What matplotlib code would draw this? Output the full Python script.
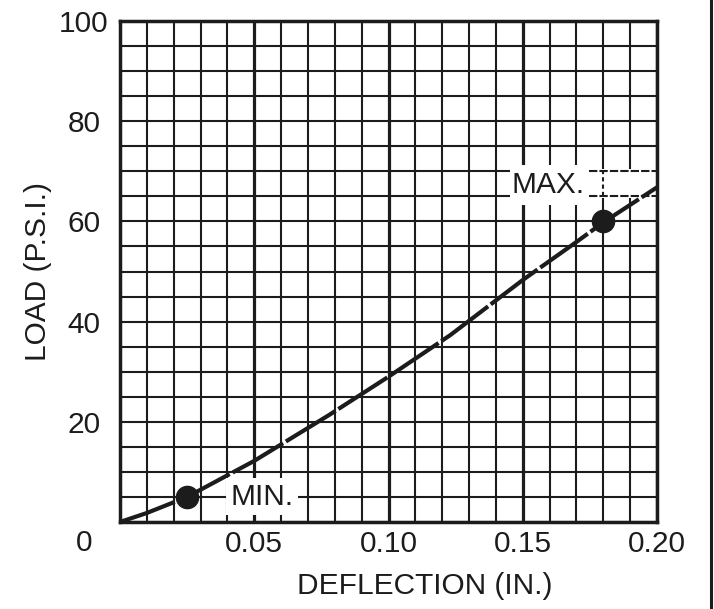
import matplotlib
matplotlib.use("Agg")
import matplotlib.pyplot as plt
from matplotlib.lines import Line2D
from matplotlib.patches import Rectangle
import numpy as np

# ---- data ----
deflection = [0.0, 0.01, 0.025, 0.05, 0.078, 0.10, 0.123, 0.15, 0.17, 0.18, 0.20]
load = [0.0, 1.8, 5.0, 12.2, 21.4, 29.0, 37.3, 48.3, 55.9, 59.8, 66.8]
min_point = (0.025, 5.0)
max_point = (0.18, 60.0)
x_ticks = [0.05, 0.10, 0.15, 0.20]
x_tick_labels = ["0.05", "0.10", "0.15", "0.20"]
y_ticks = [20, 40, 60, 80, 100]
y_tick_labels = ["20", "40", "60", "80", "100"]
x_minor = [i / 100 for i in range(0, 21)]
y_minor = list(range(0, 101, 5))

FONT = "Liberation Sans"
INK = "#1c1c1c"
FS = 21.5

fig = plt.figure(figsize=(7.14, 6.09), dpi=100)
ax = fig.add_axes([120/714, 87/609, 537/714, 501/609])
ax.set_xlim(0, 0.20)
ax.set_ylim(0, 100)

# grid
ax.set_xticks(x_minor, minor=True)
ax.set_yticks(y_minor, minor=True)
ax.set_xticks(x_ticks)
ax.set_xticklabels(x_tick_labels)
ax.set_yticks(y_ticks)
ax.set_yticklabels(y_tick_labels)
ax.grid(which="minor", color=INK, lw=1.5, zorder=1)
ax.grid(which="major", axis="x", color=INK, lw=2.3, zorder=1)
ax.grid(which="major", axis="y", color=INK, lw=1.5, zorder=1)
ax.set_axisbelow(True)

ax.tick_params(which="both", length=0)
ax.tick_params(axis="x", pad=6, labelsize=FS, labelcolor=INK)
ax.tick_params(axis="y", pad=26, labelsize=FS, labelcolor=INK)
for lab in ax.get_xticklabels() + ax.get_yticklabels():
    lab.set_fontfamily(FONT)
for lab in ax.get_yticklabels():
    lab.set_ha("center")

for s in ax.spines.values():
    s.set_linewidth(2.5)
    s.set_color(INK)
    s.set_zorder(5)

# white area behind MAX label and dashed leader box
ax.add_patch(Rectangle((0.1453, 63.3), 0.029, 8.0, facecolor="white",
                       edgecolor="none", zorder=2))
ax.add_patch(Rectangle((0.1743, 64.6), 0.0257, 5.8, facecolor="white",
                       edgecolor="none", zorder=2))
ax.plot([0.1745, 0.2], [70, 70], color=INK, lw=1.5, ls=(0, (4, 1)), zorder=2.5)
ax.plot([0.1745, 0.2], [65, 65], color=INK, lw=1.5, ls=(0, (4, 1)), zorder=2.5)
ax.plot([0.18, 0.18], [65, 70], color=INK, lw=1.5, ls=(0, (2, 1.5)), zorder=2.5)

# curve
ax.plot(deflection, load, color=INK, lw=3.0, ls=(0, (14, 0.8)),
        solid_capstyle="butt", zorder=3, clip_on=False)
ax.plot(*min_point, "o", color=INK, ms=16, zorder=4)
ax.plot(*max_point, "o", color=INK, ms=16, zorder=4)

ax.text(0.1596, 67.3, "MAX.", ha="center", va="center", fontsize=FS,
        family=FONT, color=INK, zorder=4)
ax.text(0.0529, 5.0, "MIN.", ha="center", va="center", fontsize=FS,
        family=FONT, color=INK, zorder=4,
        bbox=dict(boxstyle="square,pad=0.15", facecolor="white", edgecolor="none"))

# corner origin label
ax.annotate("0", xy=(0, 0), xytext=(-26, -15), textcoords="offset points",
            ha="center", va="center", fontsize=FS, family=FONT, color=INK,
            annotation_clip=False)

ax.set_xlabel("DEFLECTION (IN.)", fontsize=FS, family=FONT, color=INK)
ax.xaxis.set_label_coords(0.568, -0.128)
ax.xaxis.label.set_va("center")
ax.set_ylabel("LOAD (P.S.I.)", fontsize=FS, family=FONT, color=INK)
ax.yaxis.set_label_coords(-0.1527, 0.5)
ax.yaxis.label.set_va("center")

fig.add_artist(Line2D([711/714, 711/714], [0, 1], color=INK, lw=2.2))

fig.savefig("out.png", dpi=100)
